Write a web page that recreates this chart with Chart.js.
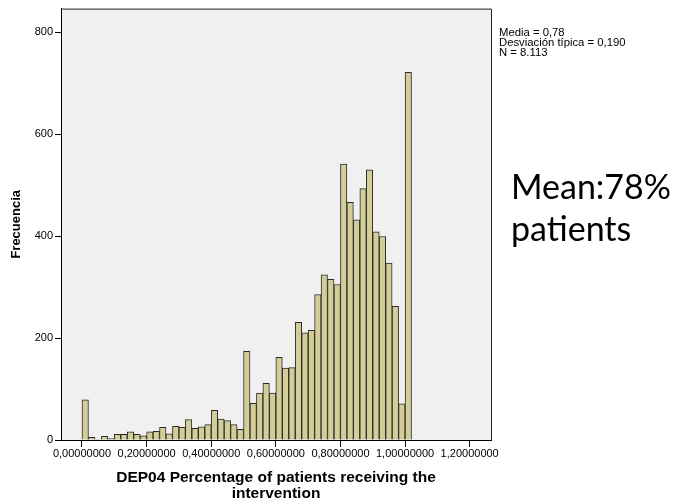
<!DOCTYPE html>
<html>
<head>
<meta charset="utf-8">
<script src="https://cdn.jsdelivr.net/npm/chart.js@4.4.1/dist/chart.umd.min.js"></script>
<style>
  html, body { margin: 0; padding: 0; background: #fff; }
  canvas { display: block; }
</style>
</head>
<body>
<canvas id="hist" width="675" height="502"></canvas>
<script>
// Histogram bins (lower edge of each 0.02-wide bin)
const binStarts = [
  0.00, 0.02, 0.04, 0.06, 0.08, 0.10, 0.12, 0.14, 0.16, 0.18,
  0.20, 0.22, 0.24, 0.26, 0.28, 0.30, 0.32, 0.34, 0.36, 0.38,
  0.40, 0.42, 0.44, 0.46, 0.48, 0.50, 0.52, 0.54, 0.56, 0.58,
  0.60, 0.62, 0.64, 0.66, 0.68, 0.70, 0.72, 0.74, 0.76, 0.78,
  0.80, 0.82, 0.84, 0.86, 0.88, 0.90, 0.92, 0.94, 0.96, 0.98,
  1.00
];
const binWidth = 0.02;

// Frequency of each bin
const frequencies = [
  79, 5, 1, 7, 3, 11, 11, 16, 11, 8,
  16, 17, 25, 12, 27, 25, 40, 23, 26, 30,
  58, 41, 38, 30, 21, 174, 72, 92, 111, 92,
  162, 141, 142, 231, 210, 215, 285, 324, 315, 305,
  541, 466, 432, 493, 530, 408, 399, 347, 262, 71,
  721
];

// Axis ticks
const xTickValues = [0, 0.2, 0.4, 0.6, 0.8, 1.0, 1.2];
const xTickLabels = ['0,00000000', '0,20000000', '0,40000000', '0,60000000',
                     '0,80000000', '1,00000000', '1,20000000'];
const yTickValues = [0, 200, 400, 600, 800];

// Summary statistics box and note
const statsLines = ['Media = 0,78', 'Desviación típica = 0,190', 'N = 8.113'];
const noteLines = ['Mean:78%', 'patients'];

const xTitle = ['DEP04 Percentage of patients receiving the', 'intervention'];
const yTitle = 'Frecuencia';

const points = binStarts.map((b, i) => ({ x: b + binWidth / 2, y: frequencies[i] }));

const decorations = {
  id: 'decorations',
  beforeDraw(chart) {
    const { ctx, chartArea: a } = chart;
    ctx.save();
    ctx.fillStyle = '#ffffff';
    ctx.fillRect(0, 0, chart.width, chart.height);
    ctx.fillStyle = '#f0f0f0';
    ctx.fillRect(a.left, a.top, a.right - a.left, a.bottom - a.top);
    ctx.restore();
  },
  afterDraw(chart) {
    const { ctx, chartArea: a } = chart;
    ctx.save();
    // frame on top and right of the plot
    ctx.strokeStyle = '#222';
    ctx.lineWidth = 1;
    ctx.beginPath();
    ctx.moveTo(a.left, a.top + 0.5);
    ctx.lineTo(a.right + 0.5, a.top + 0.5);
    ctx.lineTo(a.right + 0.5, a.bottom);
    ctx.stroke();

    // statistics
    ctx.fillStyle = '#000';
    ctx.font = '11.3px "Liberation Sans", Arial, sans-serif';
    ctx.textBaseline = 'middle';
    ctx.textAlign = 'left';
    statsLines.forEach((t, i) => ctx.fillText(t, a.right + 8, 33 + i * 10));

    // note
    ctx.font = '34px Lato, "Open Sans", sans-serif';
    ctx.textBaseline = 'alphabetic';
    ctx.fillText(noteLines[0], 511, 199);
    ctx.fillText(noteLines[1], 511, 241);
    ctx.restore();
  }
};

new Chart(document.getElementById('hist'), {
  type: 'bar',
  data: {
    datasets: [{
      data: points,
      backgroundColor: '#d3ce97',
      borderColor: '#2b2b2b',
      borderWidth: 1,
      barPercentage: 1,
      categoryPercentage: 1
    }]
  },
  options: {
    responsive: false,
    maintainAspectRatio: false,
    animation: false,
    layout: { padding: { left: 0, right: 184, top: 5, bottom: 0 } },
    plugins: { legend: { display: false }, tooltip: { enabled: false } },
    scales: {
      x: {
        type: 'linear',
        offset: false,
        min: -0.065,
        max: 1.266,
        afterFit(scale) { scale.height = 62; },
        afterBuildTicks(scale) { scale.ticks = xTickValues.map(v => ({ value: v })); },
        ticks: {
          autoSkip: false,
          maxRotation: 0,
          padding: 0,
          color: '#000',
          font: { family: '"Liberation Sans", Arial, sans-serif', size: 11 },
          callback(value) {
            const i = xTickValues.findIndex(v => Math.abs(v - value) < 1e-9);
            return i >= 0 ? xTickLabels[i] : '';
          }
        },
        grid: { offset: false, drawOnChartArea: false, drawTicks: true, tickLength: 7, color: '#000' },
        border: { display: true, color: '#000', width: 1 },
        title: {
          display: true,
          text: xTitle,
          color: '#000',
          font: { family: '"Liberation Sans", Arial, sans-serif', size: 15.5, weight: 'bold', lineHeight: 1.05 },
          padding: { top: 0, bottom: 0 }
        }
      },
      y: {
        min: 0,
        max: 846,
        afterFit(scale) { scale.width = 61; },
        afterBuildTicks(scale) { scale.ticks = yTickValues.map(v => ({ value: v })); },
        ticks: {
          padding: 2,
          color: '#000',
          font: { family: '"Liberation Sans", Arial, sans-serif', size: 11 }
        },
        grid: { drawOnChartArea: false, drawTicks: true, tickLength: 6, color: '#000' },
        border: { display: true, color: '#000', width: 1 },
        title: {
          display: true,
          text: yTitle,
          color: '#000',
          font: { family: '"Liberation Sans", Arial, sans-serif', size: 13, weight: 'bold' },
          padding: { top: 9, bottom: 0 }
        }
      }
    }
  },
  plugins: [decorations]
});
</script>
</body>
</html>
